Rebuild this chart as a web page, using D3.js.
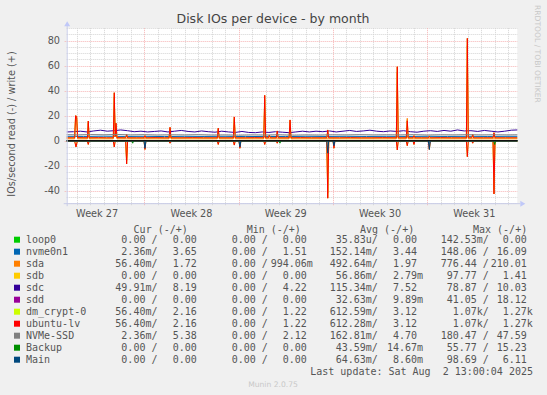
<!DOCTYPE html>
<html><head><meta charset="utf-8">
<script src="https://cdn.jsdelivr.net/npm/d3@7"></script>
<style>
body{margin:0;background:#f0f0f0;}
svg{display:block;}
text{font-family:"DejaVu Sans",sans-serif;}
.mono{font-family:"DejaVu Sans Mono",monospace;white-space:pre;}
</style></head>
<body><svg id="chart" width="547" height="395"></svg>
<script>
// ---------------- DATA ----------------
// time in days since Mon 2025-06-30 00:00
const viewStartDay = 1.24, viewEndDay = 34.69;
const weekLabels = ["Week 27","Week 28","Week 29","Week 30","Week 31"];
const weekLabelDays = [3.5,10.5,17.5,24.5,31.5];
const yTicks = [80,60,40,20,0,-20,-40];

const names = ["loop0","nvme0n1","sda","sdb","sdc","sdd","dm_crypt-0","ubuntu-lv","NVMe-SSD","Backup","Main"];
const colors = ["#00CC00","#0066B3","#FF8000","#FFCC00","#330099","#990099","#CCFF00","#FF0000","#808080","#008F00","#00487D"];
const curRead  = ["0.00","2.36m","56.40m","0.00","49.91m","0.00","56.40m","56.40m","2.36m","0.00","0.00"];
const curWrite = ["0.00","3.65","1.72","0.00","8.19","0.00","2.16","2.16","5.38","0.00","0.00"];
const minRead  = ["0.00","0.00","0.00","0.00","0.00","0.00","0.00","0.00","0.00","0.00","0.00"];
const minWrite = ["0.00","1.51","994.06m","0.00","4.22","0.00","1.22","1.22","2.12","0.00","0.00"];
const avgRead  = ["35.83u","152.14m","492.64m","56.86m","115.34m","32.63m","612.59m","612.28m","162.81m","43.59m","64.63m"];
const avgWrite = ["0.00","3.44","1.97","2.79m","7.52","9.89m","3.12","3.12","4.70","14.67m","8.60m"];
const maxRead  = ["142.53m","148.06","776.44","97.77","78.87","41.05","1.07k","1.07k","180.47","55.77","98.69"];
const maxWrite = ["0.00","16.09","210.01","1.41","10.03","18.12","1.27k","1.27k","47.59","15.23","6.11"];

// series: [day, IOs/s]
const zeroFlat = [[1.24,0],[34.69,0]];
const sdcWrite = [[1.25,7.0],[1.75,7.2],[2.25,7.6],[2.75,7.0],[3.25,7.8],[3.75,8.4],[4.25,7.6],[4.75,8.0],[5.25,8.6],[5.75,8.0],[6.25,7.2],[6.75,7.6],[7.25,7.0],[7.75,7.4],[8.25,7.8],[8.75,7.0],[9.25,7.6],[9.75,8.2],[10.25,7.4],[10.75,7.0],[11.25,7.8],[11.75,7.2],[12.25,6.8],[12.75,7.6],[13.25,7.0],[13.75,6.6],[14.25,7.4],[14.75,6.6],[15.25,6.4],[15.75,7.0],[16.25,6.6],[16.75,7.2],[17.25,6.8],[17.75,6.4],[18.25,7.0],[18.75,7.6],[19.25,7.0],[19.75,7.6],[20.25,7.2],[20.75,7.8],[21.25,7.0],[21.75,7.6],[22.25,8.2],[22.75,7.4],[23.25,7.8],[23.75,8.4],[24.25,7.6],[24.75,7.2],[25.25,7.8],[25.75,7.4],[26.25,8.0],[26.75,7.2],[27.25,6.8],[27.75,7.6],[28.25,8.0],[28.75,7.4],[29.25,8.2],[29.75,7.6],[30.25,8.6],[30.75,7.8],[31.25,8.0],[31.75,7.4],[32.25,8.2],[32.75,7.6],[33.25,7.0],[33.75,7.6],[34.25,8.4],[34.69,8.6]];
const sdcRead = [[1.24,0.1],[34.69,0.1]];
const nvmeSsdWrite = [[1.24,4.8],[2,4.6],[3,4.9],[4,4.7],[5,5.0],[6,4.6],[7,4.8],[8,4.5],[9,4.7],[10,4.6],[11,4.8],[12,4.5],[13,4.6],[14,4.4],[15,4.6],[16,4.5],[17,4.7],[18,4.4],[19,4.6],[20,4.5],[21,4.7],[22,4.6],[23,4.8],[24,4.6],[25,4.7],[26,4.6],[27,4.8],[28,4.5],[29,4.7],[30,4.6],[31,4.8],[32,4.6],[33,4.7],[34,4.6],[34.69,4.7]];
const nvmeSsdRead = [[1.24,0.15],[7.0,0.15],[7.05,3],[7.12,0.15],[14.05,0.15],[14.10,3],[14.17,0.15],[28.1,0.15],[28.16,3],[28.23,0.15],[34.69,0.15]];
const nvme0n1Write = [[1.24,3.5],[2.5,3.4],[4,3.6],[5.5,3.4],[7,3.5],[8.5,3.3],[10,3.5],[11.5,3.4],[13,3.5],[14.5,3.3],[16,3.4],[17.5,3.3],[19,3.5],[20.5,3.4],[22,3.5],[23.5,3.4],[25,3.5],[26.5,3.4],[28,3.5],[29.5,3.4],[31,3.5],[32.5,3.4],[34,3.5],[34.69,3.5]];
const nvme0n1Read = [[1.24,0.15],[7.0,0.15],[7.05,3],[7.12,0.15],[14.05,0.15],[14.10,3],[14.17,0.15],[28.1,0.15],[28.16,3],[28.23,0.15],[34.69,0.15]];
const ubuntuWrite = [[1.24,2.3],[1.83,2.3],[1.90,20],[1.98,19.5],[2.05,2.4],[2.78,2.3],[2.84,15.7],[2.91,2.3],[3.6,2.4],[4.2,2.3],[4.70,2.3],[4.77,38.4],[4.84,3.5],[4.90,14],[4.97,2.4],[5.62,2.3],[5.69,5],[5.76,2.3],[6.4,2.3],[6.98,2.3],[7.05,4],[7.12,2.3],[7.8,2.4],[8.5,2.3],[8.84,2.3],[8.91,10.7],[8.98,2.3],[9.8,2.3],[10.6,2.4],[11.4,2.3],[12.42,2.3],[12.49,10],[12.56,2.3],[13.61,2.3],[13.68,19],[13.75,2.3],[14.5,2.3],[15.2,2.4],[15.87,2.3],[15.94,36.3],[16.01,2.3],[16.21,2.3],[16.28,4.5],[16.35,2.3],[16.80,2.3],[16.87,7.8],[16.94,2.3],[17.75,2.3],[17.82,16.6],[17.89,2.3],[18.6,2.4],[19.4,2.3],[20.2,2.3],[20.55,2.3],[20.62,8.6],[20.69,2.3],[21.5,2.3],[22.3,2.4],[23.1,2.3],[23.9,2.3],[24.7,2.4],[25.71,2.3],[25.78,59.2],[25.85,2.3],[26.45,2.3],[26.52,16],[26.59,2.3],[26.95,2.3],[27.02,4],[27.09,2.3],[27.6,2.3],[28.09,2.3],[28.16,3.5],[28.23,2.3],[29.0,2.4],[29.8,2.3],[30.5,2.3],[30.91,2.3],[30.98,81.9],[31.05,2.3],[31.31,2.3],[31.38,5],[31.45,2.3],[32.2,2.3],[32.89,2.3],[32.96,6.4],[33.03,2.3],[33.8,2.3],[34.69,2.3]];
const ubuntuRead = [[1.24,0.3],[1.83,0.3],[1.93,5],[2.03,0.3],[2.77,0.3],[2.84,3],[2.91,0.3],[4.70,0.3],[4.77,5],[4.84,0.3],[5.62,0.3],[5.69,18.6],[5.76,0.3],[6.98,0.3],[7.05,7],[7.12,0.3],[8.84,0.3],[8.91,2],[8.98,0.3],[12.42,0.3],[12.49,3],[12.56,0.3],[13.61,0.3],[13.68,3.5],[13.75,0.3],[14.03,0.3],[14.10,6],[14.17,0.3],[15.87,0.3],[15.94,3],[16.01,0.3],[16.80,0.3],[16.87,2],[16.94,0.3],[20.55,0.3],[20.62,46],[20.69,0.3],[21.01,0.3],[21.08,6],[21.15,0.3],[25.71,0.3],[25.78,7.4],[25.85,0.3],[26.45,0.3],[26.52,4],[26.59,0.3],[26.95,0.3],[27.02,3],[27.09,0.3],[28.09,0.3],[28.16,7],[28.23,0.3],[30.91,0.3],[30.98,12.8],[31.05,0.3],[31.31,0.3],[31.38,2],[31.45,0.3],[32.89,0.3],[32.96,42.6],[33.03,0.3],[34.69,0.3]];
const sdaWrite = [[1.24,1.5],[1.83,1.5],[1.90,18],[1.98,18],[2.05,1.5],[2.78,1.5],[2.84,14],[2.91,1.5],[4.70,1.5],[4.77,35],[4.84,3],[4.90,12],[4.97,1.5],[8.84,1.5],[8.91,9.5],[8.98,1.5],[12.42,1.5],[12.49,9],[12.56,1.5],[13.61,1.5],[13.68,17],[13.75,1.5],[15.87,1.5],[15.94,33],[16.01,1.5],[17.75,1.5],[17.82,15],[17.89,1.5],[25.71,1.5],[25.78,55],[25.85,1.5],[26.45,1.5],[26.52,17.9],[26.59,1.5],[30.91,1.5],[30.98,76],[31.05,1.5],[34.69,1.5]];
const sdaRead = [[1.24,0.25],[5.62,0.25],[5.69,16],[5.76,0.25],[20.55,0.25],[20.62,42],[20.69,0.25],[32.89,0.25],[32.96,39],[33.03,0.25],[34.69,0.25]];
const backupRead = [[1.24,0.04],[6.07,0.04],[6.14,2],[6.21,0.04],[17.00,0.04],[17.07,2],[17.14,0.04],[32.94,0.04],[33.01,3],[33.08,0.04],[34.69,0.04]];
const mainRead = [[1.24,0.06],[6.98,0.06],[7.05,6],[7.12,0.06],[14.03,0.06],[14.10,5],[14.17,0.06],[20.55,0.06],[20.62,10],[20.69,0.06],[21.01,0.06],[21.08,4],[21.15,0.06],[28.09,0.06],[28.16,7],[28.23,0.06],[34.69,0.06]];

const seriesRead  = [zeroFlat, nvme0n1Read, sdaRead, zeroFlat, sdcRead, zeroFlat, ubuntuRead, ubuntuRead, nvmeSsdRead, backupRead, mainRead];
const seriesWrite = [zeroFlat, nvme0n1Write, sdaWrite, zeroFlat, sdcWrite, zeroFlat, ubuntuWrite, ubuntuWrite, nvmeSsdWrite, zeroFlat, zeroFlat];

// ---------------- DRAW ----------------
const svg = d3.select("#chart");
const base = Date.UTC(2025,5,30), DAY = 864e5;
const toDate = d => new Date(base + d*DAY);
const L = 66.7, R = 517.3, T = 28.2, B = 203.2;
const x = d3.scaleUtc().domain([toDate(viewStartDay), toDate(viewEndDay)]).range([L, R]);
const y = d3.scaleLinear().domain([-50, 90]).range([B, T]);

svg.append("rect").attr("width",547).attr("height",395).attr("fill","#f0f0f0");
svg.append("rect").attr("x",L).attr("y",T).attr("width",R-L).attr("height",B-T).attr("fill","#ffffff");

const g = svg.append("g");
const minorC = "#d4d4d4", majorC = "#f6b4b4";
// minor grid
const minorY = d3.range(-50, 91, 5).filter(v => v % 20 !== 0);
g.selectAll(".hmin").data(minorY).join("line")
  .attr("x1",L).attr("x2",R).attr("y1",d=>Math.round(y(d))+0.5).attr("y2",d=>Math.round(y(d))+0.5)
  .attr("stroke",minorC).attr("stroke-dasharray","1,1");
const days = d3.utcDay.range(x.domain()[0], x.domain()[1]).filter(d => d.getUTCDay() !== 1);
g.selectAll(".vmin").data(days).join("line")
  .attr("y1",T).attr("y2",B+2).attr("x1",d=>Math.round(x(d))+0.5).attr("x2",d=>Math.round(x(d))+0.5)
  .attr("stroke",minorC).attr("stroke-dasharray","1,1");
// major grid
g.selectAll(".hmaj").data(yTicks).join("line")
  .attr("x1",L-2).attr("x2",R).attr("y1",d=>Math.round(y(d))+0.5).attr("y2",d=>Math.round(y(d))+0.5)
  .attr("stroke",majorC).attr("stroke-dasharray","1,1");
const mondays = d3.utcMonday.range(x.domain()[0], x.domain()[1]);
g.selectAll(".vmaj").data(mondays).join("line")
  .attr("y1",T).attr("y2",B+3).attr("x1",d=>Math.round(x(d))+0.5).attr("x2",d=>Math.round(x(d))+0.5)
  .attr("stroke",majorC).attr("stroke-dasharray","1,1");

// series
const lineW = d3.line().x(p=>x(toDate(p[0]))).y(p=>y(p[1]));
const lineR = d3.line().x(p=>x(toDate(p[0]))).y(p=>y(-p[1]));
names.forEach((n,i)=>{
  g.append("path").attr("d",lineR(seriesRead[i])).attr("fill","none").attr("stroke",colors[i]).attr("stroke-width",1);
  g.append("path").attr("d",lineW(seriesWrite[i])).attr("fill","none").attr("stroke",colors[i]).attr("stroke-width",1);
});
// zero line
g.append("line").attr("x1",L).attr("x2",R).attr("y1",y(0)).attr("y2",y(0)).attr("stroke","#111").attr("stroke-width",1.3);

// axes
const axisC = "#c8cce8";
svg.append("line").attr("x1",L+0.5).attr("x2",L+0.5).attr("y1",B+3).attr("y2",T-3).attr("stroke",axisC);
svg.append("line").attr("x1",L-3).attr("x2",R+3).attr("y1",B+0.5).attr("y2",B+0.5).attr("stroke",axisC);
svg.append("path").attr("d",`M${L-2.5},${T-2} L${L+3.5},${T-2} L${L+0.5},${T-7} Z`).attr("fill","#c0c8f8");
svg.append("path").attr("d",`M${R+3},${B-2.5} L${R+3},${B+3.5} L${R+8},${B+0.5} Z`).attr("fill","#c0c8f8");

// y tick labels
svg.selectAll(".yl").data(yTicks).join("text")
  .attr("x",60).attr("y",d=>y(d)+3.5).attr("text-anchor","end")
  .attr("font-size","9.72px").attr("fill","#555").text(d=>d);
// x labels
svg.selectAll(".xl").data(weekLabels).join("text")
  .attr("x",(d,i)=>x(toDate(weekLabelDays[i]))).attr("y",216.5).attr("text-anchor","middle")
  .attr("font-size","9.72px").attr("fill","#555").text(d=>d);

// title
svg.append("text").attr("x",273).attr("y",23).attr("text-anchor","middle")
  .attr("font-size","12.5px").attr("fill","#444").text("Disk IOs per device - by month");
// y-axis label
svg.append("text").attr("transform","translate(14.5,124) rotate(-90)").attr("text-anchor","middle")
  .attr("font-size","9.72px").attr("fill","#555").text("IOs/second read (-) / write (+)");
// watermark
svg.append("text").attr("transform","translate(535,5) rotate(90)").attr("text-anchor","start")
  .attr("font-size","7.6px").attr("fill","#c8c8c8").text("RRDTOOL / TOBI OETIKER");
svg.append("text").attr("x",273).attr("y",387).attr("text-anchor","middle")
  .attr("font-size","7.6px").attr("fill","#c8c8c8").text("Munin 2.0.75");

// legend
const fs = "10px", tc = "#555";
const split = s => { const m = s.match(/^([\d.]+)([a-zA-Z]?)$/); return [m[1], m[2] || " "]; };
const fmtR = s => { const [n,u] = split(s); return n.padStart(6," ") + u + "/"; };
const fmtW = s => { const [n,u] = split(s); return n.padStart(6," ") + u; };
const headers = ["Cur (-/+)","Min (-/+)","Avg (-/+)","Max (-/+)"];
const headerX = [133.6,246.7,360,473];
headers.forEach((h,i)=> svg.append("text").attr("class","mono").attr("x",headerX[i]).attr("y",232.7)
  .attr("font-size",fs).attr("fill",tc).text(h));
const colX = [109.3,160.7,219.7,270.7,329.7,381,440.7,490.7];
const cols = [curRead,curWrite,minRead,minWrite,avgRead,avgWrite,maxRead,maxWrite];
names.forEach((n,i)=>{
  const yy = 239.7 + 12*i;
  svg.append("rect").attr("x",14).attr("y",yy-3).attr("width",6).attr("height",6).attr("fill",colors[i]);
  svg.append("text").attr("class","mono").attr("x",26).attr("y",yy+3.5).attr("font-size",fs).attr("fill",tc).text(n);
  cols.forEach((c,j)=>{
    svg.append("text").attr("class","mono").attr("x",colX[j]).attr("y",yy+3.5).attr("font-size",fs).attr("fill",tc)
      .text(j%2===0 ? fmtR(c[i]) : fmtW(c[i]));
  });
});
svg.append("text").attr("class","mono").attr("x",533).attr("y",374.5).attr("text-anchor","end")
  .attr("font-size",fs).attr("fill",tc).text("Last update: Sat Aug  2 13:00:04 2025");
</script></body></html>
